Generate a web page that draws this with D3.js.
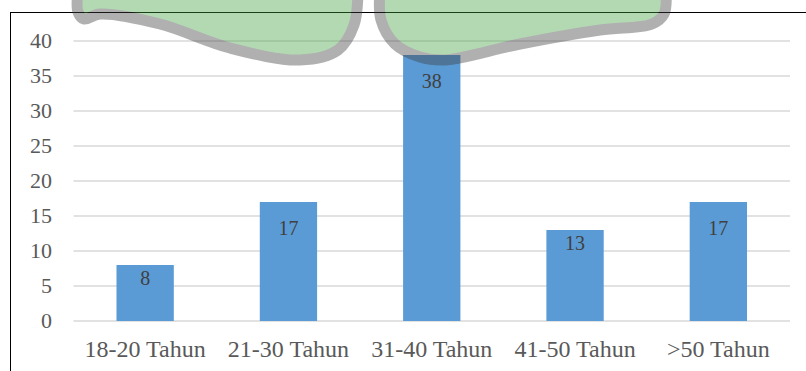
<!DOCTYPE html>
<html lang="en">
<head>
    <meta charset="UTF-8">
    <title>Usia</title>
    <style type="text/css">
        * {
            margin: 0;
            padding: 0;
        }

        body {
            background: #fff;
        }

        #chart-area {
            width: 806px;
            height: 371px;
            overflow: hidden;
        }

        text {
            font-family: "Liberation Serif", "Times New Roman", serif;
        }
    </style>
</head>
<body>
<div id="chart-area"></div>
<script src="https://cdn.jsdelivr.net/npm/d3@7"></script>
<script type="text/javascript">

  const WIDTH = 806
  const HEIGHT = 371

  const categories = ['18-20 Tahun', '21-30 Tahun', '31-40 Tahun', '41-50 Tahun', '>50 Tahun']
  const values = [8, 17, 38, 13, 17]
  const yTicks = [0, 5, 10, 15, 20, 25, 30, 35, 40]

  const margin = {left: 73.5, right: 16, top: 41, bottom: 50}

  const svg = d3.select('#chart-area').append('svg')
      .attr('width', WIDTH)
      .attr('height', HEIGHT)

  // frame of the pasted chart
  svg.append('rect')
      .attr('x', 10.5)
      .attr('y', 12.5)
      .attr('width', 820)
      .attr('height', 400)
      .attr('fill', 'none')
      .attr('stroke', '#000')
      .attr('stroke-width', 1)

  const x = d3.scaleBand()
      .domain(categories)
      .range([margin.left, WIDTH - margin.right])
      .paddingInner(0.6)
      .paddingOuter(0.3)

  const y = d3.scaleLinear()
      .domain([0, 40])
      .range([HEIGHT - margin.bottom, margin.top])

  // grid
  svg.append('g')
      .selectAll('line')
      .data(yTicks)
      .enter()
      .append('line')
      .attr('x1', margin.left)
      .attr('x2', WIDTH - margin.right)
      .attr('y1', (d) => y(d))
      .attr('y2', (d) => y(d))
      .attr('stroke', '#d9d9d9')
      .attr('stroke-width', 1.5)

  // y labels
  svg.append('g')
      .selectAll('text')
      .data(yTicks)
      .enter()
      .append('text')
      .attr('x', 52)
      .attr('y', (d) => y(d) + 7)
      .attr('text-anchor', 'end')
      .attr('font-size', '22px')
      .attr('fill', '#595959')
      .text((d) => d)

  // x labels
  svg.append('g')
      .selectAll('text')
      .data(categories)
      .enter()
      .append('text')
      .attr('x', (d) => x(d) + x.bandwidth() / 2)
      .attr('y', 357)
      .attr('text-anchor', 'middle')
      .attr('font-size', '24px')
      .attr('fill', '#595959')
      .text((d) => d)

  const bars = svg.append('g')
      .selectAll('g')
      .data(categories.map((c, i) => [c, values[i]]))
      .enter()
      .append('g')

  bars.append('rect')
      .attr('x', (d) => x(d[0]))
      .attr('y', (d) => y(d[1]))
      .attr('width', x.bandwidth())
      .attr('height', (d) => y(0) - y(d[1]))
      .attr('fill', '#5b9bd5')

  bars.append('text')
      .attr('x', (d) => x(d[0]) + x.bandwidth() / 2)
      .attr('y', (d) => y(d[1]) + (d[1] < 15 ? 20 : 33))
      .attr('text-anchor', 'middle')
      .attr('font-size', '20px')
      .attr('fill', '#404040')
      .text((d) => d[1])

  // logo watermark sitting over the top of the chart
  const mark = svg.append('g')
      .attr('opacity', 0.4)
      .attr('stroke', 'rgb(60,60,60)')
      .attr('stroke-width', 11)
      .attr('stroke-linejoin', 'round')
      .attr('fill', 'rgb(67,162,67)')

  const line = d3.line().curve(d3.curveCatmullRom.alpha(0.5))

  const leftLeaf = [[78, -10], [78, 12], [84, 19], [100, 14], [160, 24], [230, 48], [300, 60],
    [338, 50], [354, 25], [358, -10]]
  const rightLeaf = [[380, -10], [381, 20], [395, 44], [420, 57], [445, 60], [520, 44],
    [600, 30], [652, 24], [664, 14], [666, -10]]

  mark.append('path').attr('d', line(leftLeaf) + 'Z')
  mark.append('path').attr('d', line(rightLeaf) + 'Z')

</script>
</body>
</html>
